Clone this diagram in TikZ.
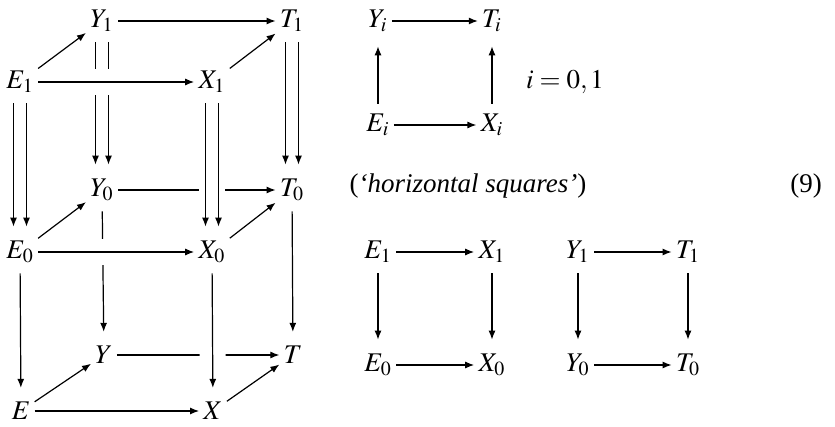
\documentclass[tikz,border=0pt]{standalone}
\usepackage{mathptmx}
\usepackage{fontspec}
\setmainfont{Liberation Serif}
\usepackage{tikz}
\usetikzlibrary{arrows.meta}

\begin{document}
\begin{tikzpicture}[
  x=0.5pt, y=-0.5pt,
  every node/.style={inner sep=2pt, font=\fontsize{13.5}{16}\selectfont},
  ar/.style={-{Latex[length=4.5pt,width=3.5pt]}, line width=0.6pt},
  vert/.style={ar, shorten <=3pt, shorten >=5pt},
  over/.style={preaction={draw=white, -, line width=#1}}
]
  \useasboundingbox (0,0) rectangle (835,427);

  % Cubo
  \node (E1) at (20,82) {$E_1$};
  \node (Y1) at (102,21) {$Y_1$};
  \node (T1) at (292,21) {$T_1$};
  \node (X1) at (212,82) {$X_1$};
  \node (E0) at (20,252) {$E_0$};
  \node (Y0) at (102,190) {$Y_0$};
  \node (T0) at (292,190) {$T_0$};
  \node (X0) at (212,252) {$X_0$};
  \node (E) at (21,411) {$E$};
  \node (Y) at (104,355) {$Y$};
  \node (T) at (293,355) {$T$};
  \node (X) at (213,411) {$X$};

  % Frecce dietro
  \draw[vert] ([xshift=-3.25pt]Y1.south) -- ([xshift=-3.25pt]Y0.north);
  \draw[vert] ([xshift=3.25pt]Y1.south) -- ([xshift=3.25pt]Y0.north);
  \draw[ar] (Y0) -- (T0);
  \draw[vert] (Y0) -- (Y);
  \draw[ar] (Y) -- (T);
  \draw[ar] (Y1) -- (T1);
  \draw[vert] ([xshift=-3.25pt]T1.south) -- ([xshift=-3.25pt]T0.north);
  \draw[vert] ([xshift=3.25pt]T1.south) -- ([xshift=3.25pt]T0.north);
  \draw[vert] (T0) -- (T);

  % Frecce davanti
  \draw[ar, over=13pt] (E1) -- (X1);
  \draw[ar, over=13pt] (E0) -- (X0);
  \draw[ar] (E) -- (X);
  \draw[vert] ([xshift=-3.25pt]E1.south) -- ([xshift=-3.25pt]E0.north);
  \draw[vert] ([xshift=3.25pt]E1.south) -- ([xshift=3.25pt]E0.north);
  \draw[vert, over=6.5pt] ([xshift=-3.25pt]X1.south) -- ([xshift=-3.25pt]X0.north);
  \draw[vert, over=6.5pt] ([xshift=3.25pt]X1.south) -- ([xshift=3.25pt]X0.north);
  \draw[vert] (E0) -- (E);
  \draw[vert, over=13pt] (X0) -- (X);

  % Diagonali
  \draw[ar] (E1) -- (Y1);
  \draw[ar] (X1) -- (T1);
  \draw[ar] (E0) -- (Y0);
  \draw[ar] (X0) -- (T0);
  \draw[ar] (E) -- (Y);
  \draw[ar] (X) -- (T);

  % Quadrato i = 0,1
  \node (Yi) at (378,21) {$Y_i$};
  \node (Ti) at (492,21) {$T_i$};
  \node (Ei) at (378,125) {$E_i$};
  \node (Xi) at (492,125) {$X_i$};
  \node (idx) at (565,82) {$i=0,1$};
  \draw[ar] (Yi) -- (Ti);
  \draw[ar] (Ei) -- (Xi);
  \draw[vert] (Ei) -- (Yi);
  \draw[vert] (Xi) -- (Ti);

  \node (hsq) at (468,186) {(\textit{`horizontal squares'})};
  \node (eqno) at (806,186) {(9)};

  % Quadrati orizzontali
  \node (Ea) at (378,252) {$E_1$};
  \node (Xa) at (492,252) {$X_1$};
  \node (Eb) at (378,365) {$E_0$};
  \node (Xb) at (492,365) {$X_0$};
  \node (Ya) at (578,252) {$Y_1$};
  \node (Ta) at (688,252) {$T_1$};
  \node (Yb) at (578,365) {$Y_0$};
  \node (Tb) at (688,365) {$T_0$};
  \draw[ar] (Ea) -- (Xa);
  \draw[ar] (Eb) -- (Xb);
  \draw[vert] (Ea) -- (Eb);
  \draw[vert] (Xa) -- (Xb);
  \draw[ar] (Ya) -- (Ta);
  \draw[ar] (Yb) -- (Tb);
  \draw[vert] (Ya) -- (Yb);
  \draw[vert] (Ta) -- (Tb);
\end{tikzpicture}
\end{document}
